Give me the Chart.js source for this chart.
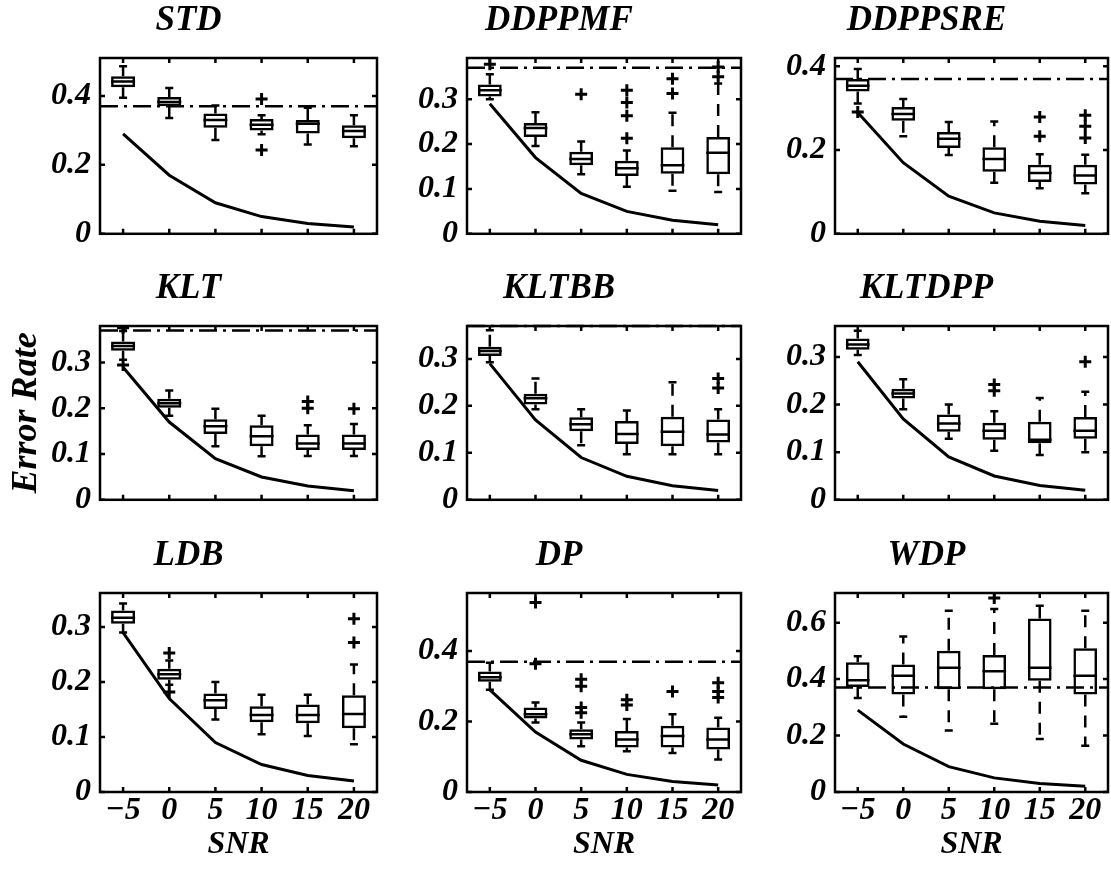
<!DOCTYPE html>
<html>
<head>
<meta charset="utf-8">
<script src="https://cdn.jsdelivr.net/npm/chart.js@4.4.0/dist/chart.umd.min.js"></script>
<style>
  html, body { margin: 0; padding: 0; background: #fff; overflow: hidden; }
  #wrap { position: relative; width: 1111px; height: 870px; }
  #wrap canvas { position: absolute; }
</style>
</head>
<body>
<div id="wrap"></div>
<script>
// SNR levels (x axis)
const snr = ['\u22125', '0', '5', '10', '15', '20'];
// lower bound curve, drawn in every panel
const bound = [0.29, 0.17, 0.09, 0.05, 0.03, 0.02];
// chance level, dash-dot line
const chance = 0.37;

// one row per SNR: [lower whisker, q1, median, q3, upper whisker]
const stdBox = [[0.395, 0.425, 0.442, 0.457, 0.486], [0.336, 0.370, 0.382, 0.397, 0.423], [0.272, 0.308, 0.330, 0.349, 0.372],
                [0.289, 0.300, 0.316, 0.333, 0.344], [0.259, 0.291, 0.319, 0.330, 0.366], [0.254, 0.277, 0.298, 0.315, 0.344]];
const stdOut = [[], [], [], [0.391, 0.243], [], []];

const ddppmfBox = [[0.300, 0.306, 0.320, 0.333, 0.356], [0.196, 0.216, 0.236, 0.247, 0.271], [0.133, 0.153, 0.167, 0.183, 0.206],
                   [0.105, 0.129, 0.146, 0.163, 0.186], [0.096, 0.134, 0.153, 0.193, 0.270], [0.093, 0.133, 0.181, 0.216, 0.335]];
const ddppmfOut = [[0.378], [], [0.311], [0.320, 0.293, 0.263, 0.213], [0.313, 0.346], [0.350, 0.372]];

const ddppsreBox = [[0.311, 0.340, 0.354, 0.370, 0.394], [0.233, 0.270, 0.286, 0.303, 0.322], [0.188, 0.205, 0.227, 0.243, 0.267],
                    [0.122, 0.148, 0.179, 0.207, 0.268], [0.109, 0.124, 0.145, 0.165, 0.190], [0.097, 0.118, 0.139, 0.165, 0.189]];
const ddppsreOut = [[0.291], [], [], [], [0.233, 0.279], [0.229, 0.257, 0.283]];

const kltBox = [[0.306, 0.326, 0.336, 0.346, 0.369], [0.184, 0.201, 0.211, 0.221, 0.239], [0.117, 0.144, 0.161, 0.176, 0.199],
                [0.095, 0.117, 0.139, 0.163, 0.184], [0.096, 0.109, 0.123, 0.143, 0.163], [0.096, 0.109, 0.123, 0.143, 0.166]];
const kltOut = [[0.295, 0.376], [], [], [], [0.200, 0.215], [0.199]];

const kltbbBox = [[0.293, 0.306, 0.317, 0.326, 0.361], [0.193, 0.203, 0.216, 0.226, 0.258], [0.116, 0.146, 0.161, 0.176, 0.193],
                  [0.097, 0.119, 0.140, 0.168, 0.190], [0.097, 0.114, 0.145, 0.177, 0.250], [0.097, 0.122, 0.139, 0.171, 0.193]];
const kltbbOut = [[], [], [], [], [], [0.238, 0.258]];

const kltdppBox = [[0.304, 0.315, 0.326, 0.339, 0.355], [0.190, 0.213, 0.223, 0.233, 0.253], [0.128, 0.143, 0.160, 0.179, 0.200],
                   [0.103, 0.126, 0.145, 0.162, 0.186], [0.094, 0.119, 0.126, 0.164, 0.214], [0.100, 0.128, 0.145, 0.174, 0.227]];
const kltdppOut = [[], [], [], [0.229, 0.242], [], [0.290]];

const ldbBox = [[0.290, 0.306, 0.317, 0.330, 0.343], [0.195, 0.204, 0.214, 0.224, 0.239], [0.132, 0.151, 0.167, 0.179, 0.200],
                [0.105, 0.127, 0.140, 0.156, 0.177], [0.102, 0.125, 0.140, 0.159, 0.177], [0.087, 0.116, 0.142, 0.176, 0.232]];
const ldbOut = [[], [0.253, 0.182], [], [], [], [0.272, 0.315]];

const dpBox = [[0.290, 0.313, 0.326, 0.342, 0.367], [0.197, 0.209, 0.221, 0.240, 0.254], [0.130, 0.149, 0.164, 0.178, 0.197],
               [0.116, 0.126, 0.149, 0.173, 0.207], [0.111, 0.126, 0.159, 0.188, 0.221], [0.092, 0.121, 0.149, 0.183, 0.211]];
const dpOut = [[], [0.364, 0.538], [0.225, 0.240, 0.300, 0.320], [0.247, 0.262], [0.285], [0.268, 0.285, 0.310]];

const wdpBox = [[0.333, 0.372, 0.396, 0.460, 0.481], [0.267, 0.345, 0.412, 0.452, 0.551], [0.218, 0.364, 0.440, 0.500, 0.642],
                [0.242, 0.364, 0.428, 0.485, 0.648], [0.188, 0.394, 0.440, 0.615, 0.660], [0.164, 0.345, 0.412, 0.509, 0.642]];
const wdpOut = [[], [], [], [0.687], [], []];

const titles = ['STD', 'DDPPMF', 'DDPPSRE', 'KLT', 'KLTBB', 'KLTDPP', 'LDB', 'DP', 'WDP'];
const yMax = [0.51, 0.392, 0.42, 0.38, 0.37, 0.365, 0.362, 0.565, 0.705];
const yStep = [0.2, 0.1, 0.2, 0.1, 0.1, 0.1, 0.1, 0.2, 0.2];

const boxes = [stdBox, ddppmfBox, ddppsreBox, kltBox, kltbbBox, kltdppBox, ldbBox, dpBox, wdpBox];
const outliers = [stdOut, ddppmfOut, ddppsreOut, kltOut, kltbbOut, kltdppOut, ldbOut, dpOut, wdpOut];

// plot area edges in the page
const plotL = [100, 467, 835], plotR = [377, 741, 1108];
const plotT = [58, 326, 593], plotB = [258, 524, 792];

const serif = "'Liberation Serif', 'Times New Roman', serif";
const bi = size => ({ family: serif, size: size, style: 'italic', weight: 'bold' });

// whiskers, medians, chance line and the boxed frame with inward ticks
const boxplot = {
  id: 'boxplot',
  beforeDatasetsDraw(chart, args, opts) {
    const { ctx, chartArea: a, scales: { y } } = chart;
    const yc = y.getPixelForValue(opts.chance);
    if (yc < a.top - 0.5 || yc > a.bottom) return;
    ctx.save();
    ctx.strokeStyle = '#000';
    ctx.lineWidth = 2.5;
    ctx.setLineDash([18, 6, 3, 6]);
    ctx.beginPath();
    ctx.moveTo(a.left, yc);
    ctx.lineTo(a.right, yc);
    ctx.stroke();
    ctx.restore();
  },
  afterDatasetsDraw(chart, args, opts) {
    const { ctx, chartArea: a, scales: { x, y } } = chart;
    const meta = chart.getDatasetMeta(0);
    ctx.save();
    ctx.strokeStyle = '#000';
    ctx.lineWidth = 2.5;
    opts.boxes.forEach((b, i) => {
      const el = meta.data[i];
      const cx = el.x, hw = el.width / 2;
      const [lo, q1, med, q3, hi] = b.map(v => y.getPixelForValue(v));
      ctx.setLineDash([12, 9]);
      ctx.beginPath();
      ctx.moveTo(cx, q3); ctx.lineTo(cx, hi);
      ctx.moveTo(cx, q1); ctx.lineTo(cx, lo);
      ctx.stroke();
      ctx.setLineDash([]);
      ctx.beginPath();
      ctx.moveTo(cx - 4, hi); ctx.lineTo(cx + 4, hi);
      ctx.moveTo(cx - 4, lo); ctx.lineTo(cx + 4, lo);
      ctx.moveTo(cx - hw, med); ctx.lineTo(cx + hw, med);
      ctx.stroke();
    });
    ctx.strokeRect(a.left, a.top, a.right - a.left, a.bottom - a.top);
    ctx.beginPath();
    y.ticks.forEach((t, i) => {
      const py = y.getPixelForTick(i);
      ctx.moveTo(a.left, py); ctx.lineTo(a.left + 5, py);
      ctx.moveTo(a.right, py); ctx.lineTo(a.right - 5, py);
    });
    x.ticks.forEach((t, i) => {
      const px = x.getPixelForTick(i);
      ctx.moveTo(px, a.top); ctx.lineTo(px, a.top + 5);
      ctx.moveTo(px, a.bottom); ctx.lineTo(px, a.bottom - 5);
    });
    ctx.stroke();
    ctx.restore();
  }
};

const wrap = document.getElementById('wrap');

titles.forEach((name, k) => {
  const row = Math.floor(k / 3), col = k % 3;
  const yw = col === 0 ? 100 : 90;
  const xh = row === 2 ? 72 : 0;
  const cv = document.createElement('canvas');
  cv.width = plotR[col] - plotL[col] + 2 * yw;
  cv.height = plotB[row] - plotT[row] + 58 + xh + 4;
  cv.style.left = (plotL[col] - yw) + 'px';
  cv.style.top = (plotT[row] - 58) + 'px';
  wrap.appendChild(cv);

  const box = boxes[k];
  const pts = [];
  outliers[k].forEach((vals, i) => vals.forEach(v => pts.push({ x: snr[i], y: v })));

  new Chart(cv, {
    type: 'bar',
    data: {
      labels: snr,
      datasets: [
        {
          type: 'bar',
          data: box.map(b => [b[1], b[3]]),
          backgroundColor: 'rgba(0,0,0,0)',
          borderColor: '#000',
          borderWidth: 2.5,
          borderSkipped: false,
          barPercentage: 0.52,
          categoryPercentage: 1
        },
        {
          type: 'line',
          data: bound,
          borderColor: '#000',
          borderWidth: 3,
          pointRadius: 0,
          tension: 0
        },
        {
          type: 'line',
          data: pts,
          showLine: false,
          pointStyle: 'cross',
          pointRadius: 6,
          borderColor: '#000',
          borderWidth: 3
        }
      ]
    },
    options: {
      responsive: false,
      animation: false,
      devicePixelRatio: 1,
      layout: { padding: { left: 0, right: yw, top: 0, bottom: 4 } },
      plugins: {
        legend: { display: false },
        tooltip: { enabled: false },
        title: {
          display: true,
          text: name,
          color: '#000',
          font: bi(35),
          padding: { top: 0, bottom: 16 }
        },
        boxplot: { boxes: box, chance: chance }
      },
      scales: {
        x: {
          type: 'category',
          offset: true,
          grid: { display: false, drawTicks: false },
          border: { display: false },
          ticks: {
            display: row === 2,
            autoSkip: false,
            maxRotation: 0,
            padding: 0,
            color: '#000',
            font: bi(32)
          },
          title: { display: row === 2, text: 'SNR', color: '#000', font: bi(32), padding: 0 },
          afterFit: s => { s.height = xh; }
        },
        y: {
          type: 'linear',
          min: 0,
          max: yMax[k],
          grid: { display: false, drawTicks: false },
          border: { display: false },
          ticks: {
            stepSize: yStep[k],
            includeBounds: false,
            padding: 9,
            color: '#000',
            font: bi(32),
            callback: v => v === 0 ? '0' : v.toFixed(1)
          },
          title: {
            display: k === 3,
            text: 'Error Rate',
            color: '#000',
            font: bi(36),
            padding: { top: 5, bottom: 0 }
          },
          afterFit: s => { s.width = yw; }
        }
      }
    },
    plugins: [boxplot]
  });
});
</script>
</body>
</html>
